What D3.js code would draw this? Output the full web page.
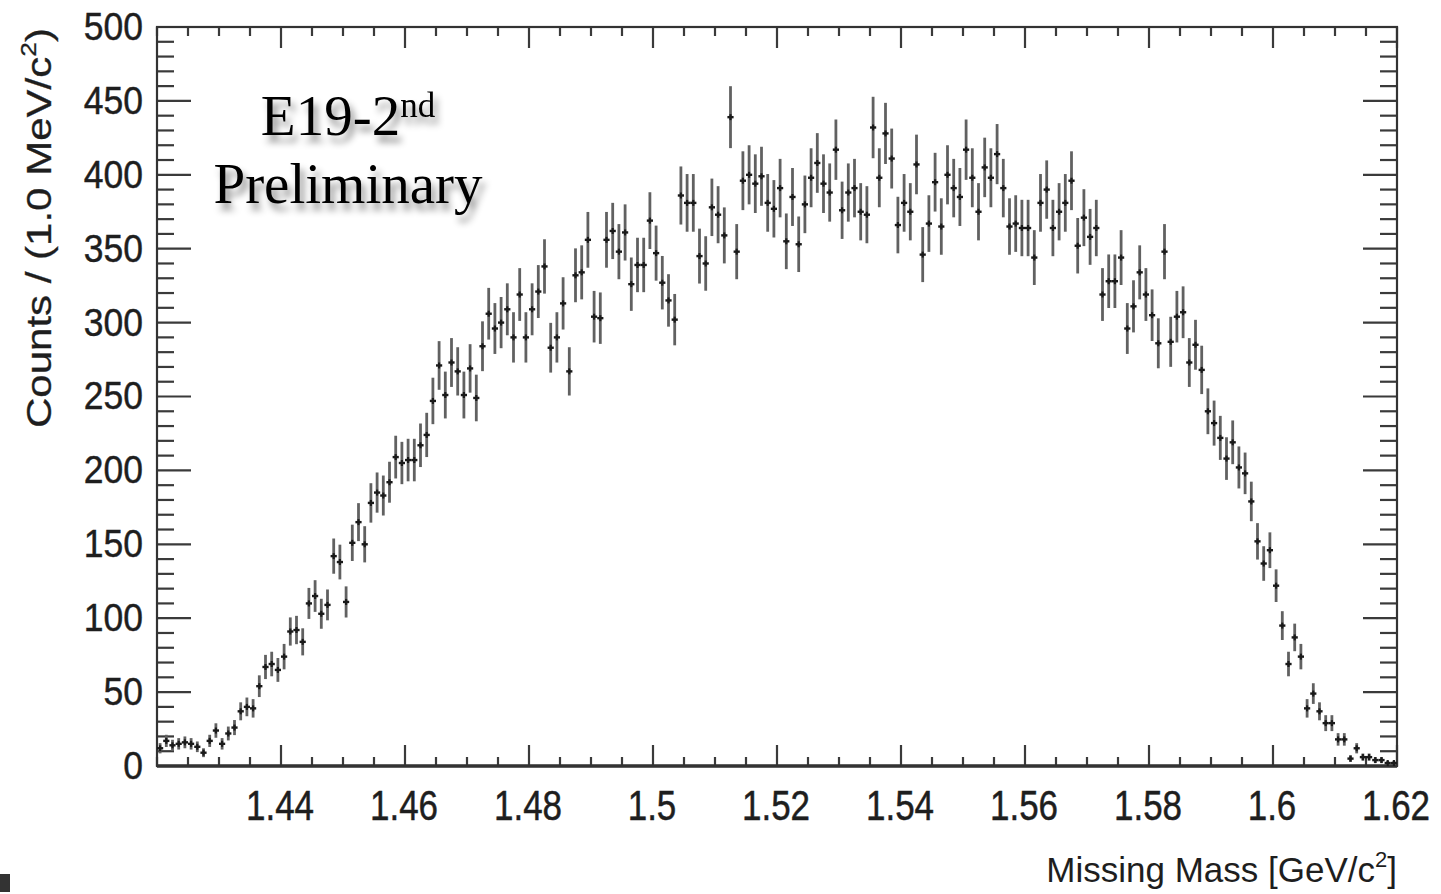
<!DOCTYPE html>
<html>
<head>
<meta charset="utf-8">
<script src="https://cdn.jsdelivr.net/npm/d3@7"></script>
<style>
  html, body { margin: 0; padding: 0; background: #fff; }
  svg { display: block; }
</style>
</head>
<body>
<svg id="chart" width="1441" height="894"></svg>
<script>
// ---- data ----
const massMin = 1.42;          // GeV/c^2, low edge of first bin
const binWidth = 0.001;        // 1.0 MeV/c^2
const counts = [
  12, 17, 14, 15, 16, 15, 13, 9, 17, 24,
  15, 22, 26, 37, 40, 39, 54, 67, 69, 65,
  74, 91, 92, 84, 110, 115, 103, 109, 142, 138,
  111, 151, 165, 150, 178, 185, 183, 192, 209, 205,
  207, 207, 217, 224, 247, 271, 251, 273, 267, 251,
  269, 249, 284, 306, 296, 300, 309, 290, 319, 290,
  309, 321, 338, 283, 290, 313, 267, 332, 334, 356,
  304, 303, 356, 362, 348, 361, 326, 339, 339, 369,
  347, 327, 315, 302, 386, 381, 381, 345, 340, 378,
  373, 359, 439, 348, 396, 400, 394, 399, 381, 377,
  391, 355, 385, 353, 380, 398, 408, 394, 388, 417,
  376, 388, 391, 375, 373, 432, 398, 428, 411, 366,
  381, 375, 407, 346, 367, 395, 365, 400, 391, 385,
  417, 398, 375, 405, 398, 414, 391, 365, 367, 364,
  364, 344, 381, 390, 364, 375, 381, 396, 352, 371,
  358, 364, 319, 328, 328, 344, 296, 311, 334, 319,
  305, 286, 348, 287, 304, 307, 273, 285, 268, 240,
  232, 222, 208, 219, 202, 198, 179, 152, 137, 146,
  122, 95, 69, 87, 74, 39, 49, 37, 29, 29,
  18, 18, 5, 12, 6, 6, 4, 4, 2, 2
];
const xDomain = [1.42, 1.62];
const yDomain = [0, 500];
const xTickValues = [1.44, 1.46, 1.48, 1.50, 1.52, 1.54, 1.56, 1.58, 1.60, 1.62];
const xTickLabels = ["1.44", "1.46", "1.48", "1.5", "1.52", "1.54", "1.56", "1.58", "1.6", "1.62"];
const yTickValues = [0, 50, 100, 150, 200, 250, 300, 350, 400, 450, 500];
const yTickLabels = ["0", "50", "100", "150", "200", "250", "300", "350", "400", "450", "500"];
const xMinorStep = 0.005;
const yMinorStep = 10;

// ---- layout ----
const L = 157, R = 1397, T = 27, B = 766;
const svg = d3.select("#chart");
const x = d3.scaleLinear().domain(xDomain).range([L, R]);
const y = d3.scaleLinear().domain(yDomain).range([B, T]);

const defs = svg.append("defs");
const f = defs.append("filter").attr("id", "shadow")
  .attr("x", "-20%").attr("y", "-30%").attr("width", "150%").attr("height", "180%");
f.append("feDropShadow").attr("dx", 4).attr("dy", 7).attr("stdDeviation", 3.5)
  .attr("flood-color", "#000").attr("flood-opacity", 0.45);

const tickColor = "#3a3a3a";

// minor ticks
const xMinor = d3.range(Math.round((xDomain[1] - xDomain[0]) / xMinorStep) + 1)
  .map(i => xDomain[0] + i * xMinorStep);
const yMinor = d3.range(yDomain[0], yDomain[1] + 0.001, yMinorStep);
const isMajorX = v => xTickValues.some(t => Math.abs(t - v) < 1e-9);
const isMajorY = v => yTickValues.includes(v);

const ticks = svg.append("g").attr("stroke", tickColor).attr("stroke-width", 2.2);
xMinor.forEach(v => {
  const len = isMajorX(v) ? 21 : 9;
  ticks.append("line").attr("x1", x(v)).attr("x2", x(v)).attr("y1", B).attr("y2", B - len);
  ticks.append("line").attr("x1", x(v)).attr("x2", x(v)).attr("y1", T).attr("y2", T + len);
});
yMinor.forEach(v => {
  const len = isMajorY(v) ? 34 : 17;
  ticks.append("line").attr("x1", L).attr("x2", L + len).attr("y1", y(v)).attr("y2", y(v));
  ticks.append("line").attr("x1", R).attr("x2", R - len).attr("y1", y(v)).attr("y2", y(v));
});

// frame
svg.append("rect").attr("x", L).attr("y", T).attr("width", R - L).attr("height", B - T)
  .attr("fill", "none").attr("stroke", "#333").attr("stroke-width", 2.2);
svg.append("line").attr("x1", L).attr("x2", R).attr("y1", B).attr("y2", B)
  .attr("stroke", "#333").attr("stroke-width", 3.5);

// tick labels
const labelFont = "'Liberation Sans', Arial, Helvetica, sans-serif";
xTickValues.forEach((v, i) => {
  svg.append("g").attr("transform", `translate(${x(v) - 1},${805}) scale(1,1.22)`)
    .append("text").attr("text-anchor", "middle").attr("dominant-baseline", "central")
    .attr("font-family", labelFont).attr("font-size", 35).attr("fill", "#1e1e1e")
    .attr("stroke", "#1e1e1e").attr("stroke-width", 0.4)
    .text(xTickLabels[i]);
});
yTickValues.forEach((v, i) => {
  svg.append("g").attr("transform", `translate(${143},${y(v)}) scale(1,1.08)`)
    .append("text").attr("text-anchor", "end").attr("dominant-baseline", "central")
    .attr("font-family", labelFont).attr("font-size", 35.5).attr("fill", "#1e1e1e")
    .attr("stroke", "#1e1e1e").attr("stroke-width", 0.4)
    .text(yTickLabels[i]);
});

// axis titles
const xt = svg.append("text").attr("x", R).attr("y", 882).attr("text-anchor", "end")
  .attr("font-family", labelFont).attr("font-size", 35).attr("fill", "#1e1e1e");
xt.append("tspan").text("Missing Mass [GeV/c");
xt.append("tspan").attr("font-size", 22).attr("dy", -15).text("2");
xt.append("tspan").attr("dy", 15).text("]");

const ytG = svg.append("g").attr("transform", "translate(51,428) rotate(-90)");
const yt = ytG.append("text").attr("text-anchor", "start")
  .attr("font-family", labelFont).attr("font-size", 35).attr("fill", "#1e1e1e")
  .attr("stroke", "#1e1e1e").attr("stroke-width", 0.3);
yt.append("tspan").text("Counts / (1.0 MeV/c");
yt.append("tspan").attr("font-size", 22).attr("dy", -15).text("2");
yt.append("tspan").attr("dy", 15).text(")");
const ytLen = yt.node().getComputedTextLength();
yt.attr("transform", `scale(${400 / ytLen},1)`);

// data points with error bars
const pts = svg.append("g");
counts.forEach((c, i) => {
  const lo = massMin + i * binWidth, hi = lo + binWidth, mid = lo + binWidth / 2;
  const err = Math.sqrt(c);
  pts.append("line").attr("x1", x(mid)).attr("x2", x(mid))
    .attr("y1", y(c - err)).attr("y2", y(c + err))
    .attr("stroke", "#616161").attr("stroke-width", 2.8);
  pts.append("line").attr("x1", x(lo)).attr("x2", x(hi))
    .attr("y1", y(c)).attr("y2", y(c))
    .attr("stroke", "#1a1a1a").attr("stroke-width", 2.4);
  pts.append("line").attr("x1", x(mid)).attr("x2", x(mid))
    .attr("y1", y(c) - 3).attr("y2", y(c) + 3)
    .attr("stroke", "#1a1a1a").attr("stroke-width", 2.2);
});

// annotation
const serif = "'Liberation Serif', 'Times New Roman', Times, serif";
const ann = svg.append("g").attr("filter", "url(#shadow)");
const a1 = ann.append("text").attr("x", 348).attr("y", 135).attr("text-anchor", "middle")
  .attr("font-family", serif).attr("font-size", 57).attr("fill", "#000");
a1.append("tspan").text("E19-2");
a1.append("tspan").attr("font-size", 35).attr("dy", -18).text("nd");
ann.append("text").attr("x", 348).attr("y", 203).attr("text-anchor", "middle")
  .attr("font-family", serif).attr("font-size", 57).attr("fill", "#000")
  .text("Preliminary");

// small slide-corner mark
svg.append("rect").attr("x", 0).attr("y", 874).attr("width", 10).attr("height", 18)
  .attr("fill", "#333");
</script>
</body>
</html>
